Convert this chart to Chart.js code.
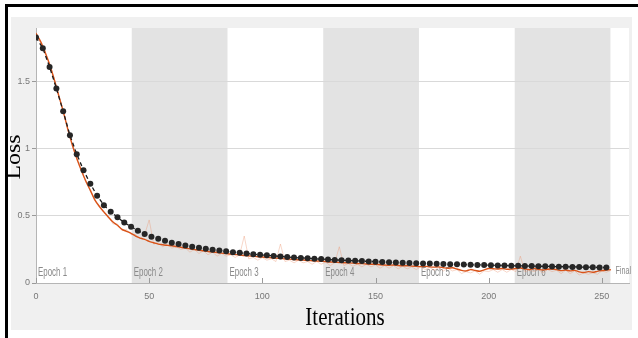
<!DOCTYPE html>
<html>
<head>
<meta charset="utf-8">
<script src="https://cdn.jsdelivr.net/npm/chart.js"></script>
<style>
  html, body { margin: 0; padding: 0; background: #fff; }
  #wrap { position: relative; width: 638px; height: 338px; overflow: hidden; }
  #panel { position: absolute; left: 11px; top: 17px; width: 621px; height: 313px; background: #f0f0f0; }
  #lineTop { position: absolute; left: 5px; top: 4px; width: 633px; height: 3px; background: #000; }
  #lineLeft { position: absolute; left: 5px; top: 4px; width: 3px; height: 334px; background: #000; }
  canvas { position: absolute; left: 0; top: 0; }
</style>
</head>
<body>
<div id="wrap">
  <div id="panel"></div>
  <div id="lineTop"></div>
  <div id="lineLeft"></div>
  <canvas id="lossChart" width="638" height="338"></canvas>
</div>
<script>
// validation loss, one point every 3 iterations (0..252)
var valStep = 3;
var valLoss = [1.83, 1.75, 1.61, 1.45, 1.28, 1.10, 0.96, 0.84, 0.74, 0.65,
  0.58, 0.53, 0.49, 0.45, 0.42, 0.39, 0.365, 0.345, 0.33, 0.315,
  0.30, 0.29, 0.28, 0.27, 0.262, 0.255, 0.248, 0.242, 0.236, 0.23,
  0.225, 0.22, 0.215, 0.21, 0.206, 0.202, 0.198, 0.194, 0.19, 0.187,
  0.184, 0.181, 0.178, 0.175, 0.172, 0.17, 0.168, 0.165, 0.163, 0.161,
  0.159, 0.157, 0.155, 0.153, 0.151, 0.149, 0.148, 0.146, 0.145, 0.143,
  0.142, 0.14, 0.139, 0.138, 0.136, 0.135, 0.134, 0.133, 0.131, 0.13,
  0.129, 0.128, 0.127, 0.126, 0.125, 0.124, 0.123, 0.122, 0.121, 0.12,
  0.119, 0.118, 0.117, 0.116, 0.115];

// smoothed training loss, every 2 iterations (0..254)
var trainStep = 2;
var trainLoss = [1.86, 1.80, 1.72, 1.63, 1.52, 1.40, 1.28, 1.15, 1.03, 0.93,
  0.84, 0.76, 0.69, 0.62, 0.57, 0.53, 0.49, 0.455, 0.43, 0.40,
  0.385, 0.37, 0.35, 0.335, 0.325, 0.31, 0.30, 0.29, 0.285, 0.28,
  0.278, 0.272, 0.266, 0.26, 0.254, 0.249, 0.244, 0.24, 0.235, 0.231,
  0.227, 0.223, 0.219, 0.215, 0.212, 0.209, 0.205, 0.202, 0.199, 0.196,
  0.194, 0.19, 0.188, 0.185, 0.183, 0.18, 0.178, 0.175, 0.173, 0.171,
  0.168, 0.166, 0.164, 0.162, 0.16, 0.157, 0.155, 0.153, 0.151, 0.15,
  0.148, 0.145, 0.144, 0.142, 0.14, 0.139, 0.136, 0.134, 0.132, 0.134,
  0.13, 0.128, 0.129, 0.126, 0.124, 0.122, 0.124, 0.12, 0.118, 0.12,
  0.114, 0.11, 0.114, 0.104, 0.094, 0.09, 0.1, 0.094, 0.088, 0.098,
  0.108, 0.106, 0.104, 0.108, 0.102, 0.104, 0.108, 0.112, 0.105, 0.1,
  0.107, 0.102, 0.097, 0.102, 0.104, 0.1, 0.092, 0.097, 0.09, 0.094,
  0.083, 0.078, 0.085, 0.08, 0.087, 0.092, 0.096, 0.1];

// raw (unsmoothed) training loss, faint, every 2 iterations
var rawLoss = [1.87, 1.79, 1.73, 1.62, 1.53, 1.39, 1.29, 1.14, 1.04, 0.92,
  0.85, 0.75, 0.70, 0.61, 0.58, 0.52, 0.50, 0.44, 0.44, 0.39,
  0.40, 0.36, 0.36, 0.33, 0.36, 0.47, 0.29, 0.30, 0.27, 0.29,
  0.26, 0.27, 0.25, 0.26, 0.23, 0.25, 0.22, 0.24, 0.21, 0.23,
  0.20, 0.22, 0.20, 0.21, 0.19, 0.21, 0.35, 0.18, 0.19, 0.17,
  0.19, 0.17, 0.18, 0.16, 0.29, 0.16, 0.17, 0.15, 0.17, 0.15,
  0.16, 0.14, 0.16, 0.14, 0.155, 0.13, 0.15, 0.27, 0.13, 0.145,
  0.125, 0.14, 0.12, 0.14, 0.12, 0.135, 0.11, 0.13, 0.11, 0.13,
  0.105, 0.125, 0.105, 0.12, 0.1, 0.12, 0.1, 0.115, 0.095, 0.115,
  0.09, 0.11, 0.09, 0.1, 0.07, 0.085, 0.075, 0.09, 0.065, 0.09,
  0.085, 0.1, 0.08, 0.1, 0.08, 0.1, 0.085, 0.2, 0.085, 0.095,
  0.085, 0.1, 0.075, 0.1, 0.085, 0.095, 0.07, 0.095, 0.07, 0.09,
  0.06, 0.075, 0.065, 0.075, 0.065, 0.09, 0.08, 0.095];

var epochEdges = [0, 42.3, 84.6, 126.9, 169.2, 211.5, 253.8];
var epochLabels = ['Epoch 1', 'Epoch 2', 'Epoch 3', 'Epoch 4', 'Epoch 5', 'Epoch 6', 'Final'];
var xTicks = [0, 50, 100, 150, 200, 250];
var yTicks = [0, 0.5, 1, 1.5];

function toPoints(vals, step) {
  return vals.map(function (v, i) { return { x: i * step, y: v }; });
}

var smallFont = '"Liberation Sans", Arial, sans-serif';

var epochPlugin = {
  id: 'epochPlugin',
  beforeDraw: function (chart) {
    var ctx = chart.ctx, a = chart.chartArea, x = chart.scales.x;
    ctx.save();
    ctx.fillStyle = '#ffffff';
    ctx.fillRect(a.left, a.top, a.right - a.left, a.bottom - a.top);
    ctx.fillStyle = '#e3e3e3';
    for (var i = 1; i < epochEdges.length - 1; i += 2) {
      var x0 = x.getPixelForValue(epochEdges[i]);
      var x1 = x.getPixelForValue(epochEdges[i + 1]);
      ctx.fillRect(x0, a.top, x1 - x0, a.bottom - a.top);
    }
    ctx.restore();
  },
  beforeDatasetsDraw: function (chart) {
    var ctx = chart.ctx, a = chart.chartArea, x = chart.scales.x;
    ctx.save();
    ctx.fillStyle = '#8a8a8a';
    ctx.textBaseline = 'alphabetic';
    for (var i = 0; i < epochLabels.length; i++) {
      var last = i == epochLabels.length - 1;
      var px = x.getPixelForValue(epochEdges[i]) + (last ? 5 : 2);
      ctx.save();
      ctx.font = (last ? '10px ' : '11px ') + smallFont;
      ctx.translate(px, a.bottom - (last ? 9 : 7));
      ctx.scale(0.72, 1.1);
      ctx.fillText(epochLabels[i], 0, 0);
      ctx.restore();
    }
    // inward x ticks
    ctx.strokeStyle = '#9a9a9a';
    ctx.lineWidth = 1;
    xTicks.forEach(function (t) {
      var px = Math.round(x.getPixelForValue(t)) + 0.5;
      ctx.beginPath();
      ctx.moveTo(px, a.bottom);
      ctx.lineTo(px, a.bottom - 5);
      ctx.stroke();
    });
    ctx.restore();
  },
  afterDraw: function (chart) {
    var ctx = chart.ctx;
    ctx.save();
    ctx.fillStyle = '#000';
    ctx.textAlign = 'center';
    ctx.textBaseline = 'middle';
    ctx.font = '22px "Liberation Serif", "Times New Roman", serif';
    ctx.translate(14, 157);
    ctx.rotate(-Math.PI / 2);
    ctx.scale(1.08, 1);
    ctx.fillText('Loss', 0, 0);
    ctx.restore();

    ctx.save();
    ctx.fillStyle = '#000';
    ctx.textAlign = 'center';
    ctx.textBaseline = 'alphabetic';
    ctx.font = '21px "Liberation Serif", "Times New Roman", serif';
    ctx.translate(345, 325);
    ctx.scale(1, 1.15);
    ctx.fillText('Iterations', 0, 0);
    ctx.restore();
  }
};

var ctx = document.getElementById('lossChart').getContext('2d');
var lossChart = new Chart(ctx, {
  type: 'line',
  data: {
    datasets: [
      {
        label: 'Validation',
        data: toPoints(valLoss, valStep),
        borderColor: '#1a1a1a',
        borderWidth: 1.3,
        borderDash: [4, 3],
        pointRadius: 3,
        pointBackgroundColor: '#262626',
        pointBorderColor: '#262626',
        pointBorderWidth: 0,
        tension: 0,
        order: 0
      },
      {
        label: 'Training (smoothed)',
        data: toPoints(trainLoss, trainStep),
        borderColor: '#d95319',
        borderWidth: 1.4,
        pointRadius: 0,
        tension: 0.3,
        order: 1
      },
      {
        label: 'Training',
        data: toPoints(rawLoss, trainStep),
        borderColor: 'rgba(235, 140, 100, 0.35)',
        borderWidth: 1,
        pointRadius: 0,
        tension: 0,
        order: 2
      }
    ]
  },
  options: {
    responsive: false,
    animation: false,
    events: [],
    layout: { padding: { left: 0, right: 9, top: 28, bottom: 0 } },
    plugins: { legend: { display: false }, tooltip: { enabled: false } },
    scales: {
      x: {
        type: 'linear',
        min: 0,
        max: 262,
        afterFit: function (s) { s.height = 55; },
        afterBuildTicks: function (s) { s.ticks = xTicks.map(function (v) { return { value: v }; }); },
        grid: { display: false, drawTicks: false },
        border: { display: true, color: '#b5b5b5', width: 1 },
        ticks: { font: { size: 9, family: smallFont }, color: '#777', padding: 8, maxRotation: 0 }
      },
      y: {
        type: 'linear',
        min: 0,
        max: 1.9,
        afterFit: function (s) { s.width = 36; },
        afterBuildTicks: function (s) { s.ticks = yTicks.map(function (v) { return { value: v }; }); },
        grid: { color: '#d9d9d9', tickLength: 4, tickColor: '#999' },
        border: { display: true, color: '#b5b5b5', width: 1 },
        ticks: {
          font: { size: 9, family: smallFont }, color: '#777', padding: 2,
          callback: function (v) { return String(v); }
        }
      }
    }
  },
  plugins: [epochPlugin]
});
</script>
</body>
</html>
